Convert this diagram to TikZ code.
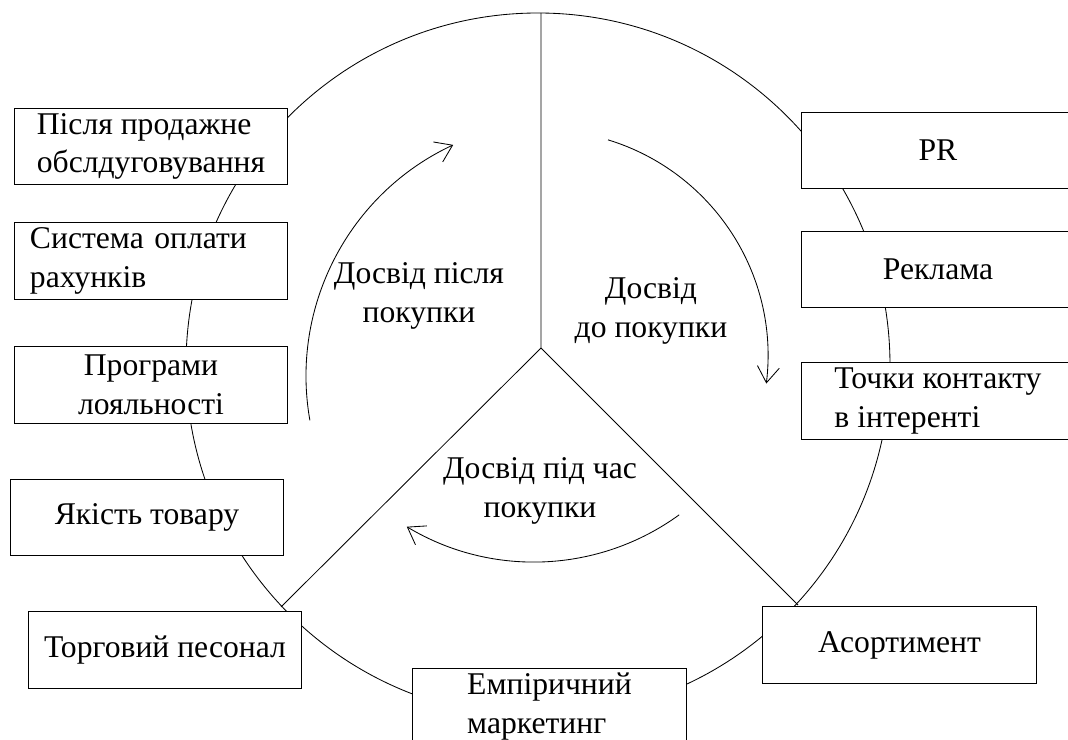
\documentclass[tikz,border=0pt]{standalone}
\usepackage{fontspec}
\setmainfont{Liberation Serif}
\usetikzlibrary{arrows.meta}
\begin{document}
\begin{tikzpicture}[x=0.025cm,y=-0.025cm,line width=0.6pt,
  >={Straight Barb[length=4mm,width=5.5mm]},
  every node/.style={font=\fontsize{22.5}{27.5}\selectfont},
  box/.style={draw,fill=white,line width=0.8pt,minimum width=6.83cm,minimum height=1.92cm,align=center}]
  \useasboundingbox (0,0) rectangle (1068,740);
  \clip (0,0) rectangle (1068,740);
  \draw (538,365) circle[radius=352];
  \coordinate (hub) at (541,348);
  \coordinate (top) at (541,13);
  \coordinate (bl) at (281,607);
  \coordinate (br) at (798,605);
  \draw (top) -- (hub) -- (bl) (hub) -- (br);
  \draw[->] (561,376) ++(170:255) arc[start angle=170,end angle=245,radius=255];
  \draw[->] (542,356) ++(-73:226) arc[start angle=-73,end angle=7,radius=226];
  \draw[->] (534,315) ++(54:247) arc[start angle=54,end angle=121,radius=247];
  \node[align=center] (lafter) at (419,296) {Досвід після\\покупки};
  \node[align=center] (lbefore) at (651,311) {Досвід\\до покупки};
  \node[align=center] (lduring) at (540,491) {Досвід під час\\покупки};
  \node[box,align=left] (after) at (151,146.5) {Після продажне\\обслдуговування};
  \node[box,align=left,text width=6.05cm,inner xsep=0.375cm] (pay) at (151,261) {Система оплати\\рахунків};
  \node[box] (loyal) at (151,385) {Програми\\лояльності};
  \node[box] (quality) at (147,517.5) {Якість товару};
  \node[box] (staff) at (165,650) {Торговий песонал};
  \node[box,align=left] (empir) at (549.5,706.5) {Емпіричний\\маркетинг};
  \node[box] (assort) at (899.5,645) {Асортимент};
  \node[box] (pr) at (938,150.5) {PR};
  \node[box] (ad) at (938,269.5) {Реклама};
  \node[box,align=left] (web) at (938,401) {Точки контакту\\в інтеренті};
\end{tikzpicture}
\end{document}
